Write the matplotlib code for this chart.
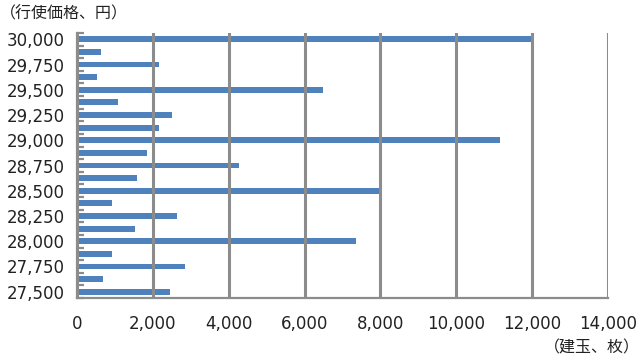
import matplotlib
matplotlib.use("Agg")
import matplotlib.pyplot as plt
from matplotlib.ticker import FuncFormatter, FixedLocator

# strike prices (yen) and open interest (contracts)
strikes = [27500, 27625, 27750, 27875, 28000, 28125, 28250, 28375, 28500, 28625,
           28750, 28875, 29000, 29125, 29250, 29375, 29500, 29625, 29750, 29875, 30000]
open_interest = [2450, 690, 2840, 910, 7350, 1530, 2630, 910, 8000, 1580,
                 4270, 1850, 11150, 2170, 2510, 1080, 6480, 530, 2170, 620, 12000]

ytick_vals = list(range(27500, 30001, 250))
xtick_vals = list(range(0, 14001, 2000))

bar_color = "#4f81bd"
grid_color = "#8c8c8c"

fig = plt.figure(figsize=(6.4, 3.6), dpi=100)
ax = fig.add_axes([0.1203, 0.1722, 0.8297, 0.7361])

ax.barh(strikes, open_interest, height=58, color=bar_color, zorder=1)

ax.set_xlim(0, 14000)
ax.set_ylim(27437.5, 30062.5)
ax.set_xticks(xtick_vals)
ax.set_yticks(ytick_vals)
# small inside marks at category boundaries
ax.yaxis.set_minor_locator(FixedLocator([s - 62.5 for s in strikes] + [strikes[-1] + 62.5]))
fmt = FuncFormatter(lambda v, p: f"{int(v):,}")
ax.xaxis.set_major_formatter(fmt)
ax.yaxis.set_major_formatter(fmt)

ax.grid(axis="x", color=grid_color, linewidth=2.2, zorder=3)
ax.set_axisbelow(False)

for s in ["top", "right"]:
    ax.spines[s].set_visible(False)
for s in ["left", "bottom"]:
    ax.spines[s].set_color(grid_color)
    ax.spines[s].set_linewidth(1.6)

ax.tick_params(axis="y", which="major", length=0, pad=9, labelsize=12, colors="#222222")
ax.tick_params(axis="y", which="minor", direction="in", length=5, width=1.6, color=grid_color)
ax.tick_params(axis="x", length=0, pad=12, labelsize=12, colors="#222222")

jp = ["Noto Sans CJK JP", "DejaVu Sans"]
fig.text(0.0, 0.962, "（行使価格、円）", fontsize=11.5, family=jp, color="#222222", va="center")
fig.text(1.0, 0.033, "（建玉、枚）", fontsize=11.5, family=jp, color="#222222", va="center", ha="right")

fig.savefig("out.png", dpi=100)
